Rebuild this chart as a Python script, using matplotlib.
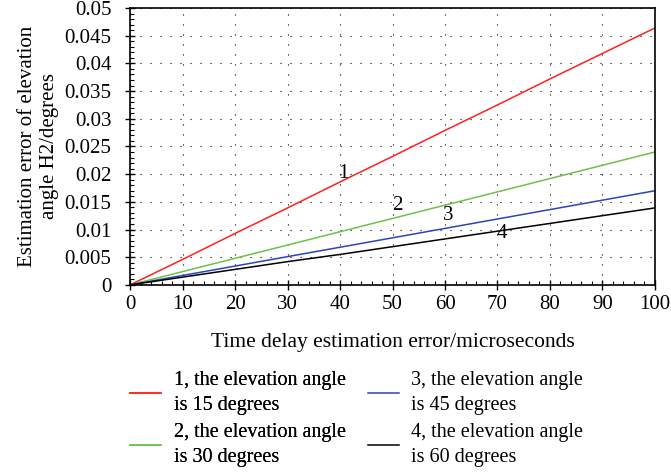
import matplotlib.pyplot as plt
from matplotlib.ticker import MultipleLocator

plt.rcParams['font.family'] = ['Liberation Serif', 'DejaVu Serif']

# time delay error (microseconds)
x = [0, 10, 20, 30, 40, 50, 60, 70, 80, 90, 100]

# estimation error of elevation angle, one list per elevation angle
err_15 = [0, 0.0046, 0.0093, 0.0139, 0.0186, 0.0232, 0.0279, 0.0325, 0.0372, 0.0418, 0.0464]
err_30 = [0, 0.0024, 0.0048, 0.0072, 0.0096, 0.0120, 0.0144, 0.0168, 0.0192, 0.0216, 0.0240]
err_45 = [0, 0.0017, 0.0034, 0.0051, 0.0068, 0.0085, 0.0102, 0.0119, 0.0136, 0.0153, 0.0170]
err_60 = [0, 0.0014, 0.0028, 0.0042, 0.0055, 0.0069, 0.0083, 0.0097, 0.0111, 0.0125, 0.0139]

labels = ['1, the elevation angle\nis 15 degrees',
          '2, the elevation angle\nis 30 degrees',
          '3, the elevation angle\nis 45 degrees',
          '4, the elevation angle\nis 60 degrees']

fig = plt.figure(figsize=(6.71, 4.74), dpi=100)
ax = fig.add_axes([0.194, 0.399, 0.782, 0.584])

l1, = ax.plot(x, err_15, color='#ff2020', lw=1.1)
l2, = ax.plot(x, err_30, color='#6cc24a', lw=1.1)
l3, = ax.plot(x, err_45, color='#2a45b8', lw=1.1)
l4, = ax.plot(x, err_60, color='black', lw=1.1)

# curve numbers
ax.text(40.6, 0.0202, '1', fontsize=15, ha='center', va='center')
ax.text(50.9, 0.0144, '2', fontsize=15, ha='center', va='center')
ax.text(60.6, 0.0126, '3', fontsize=15, ha='center', va='center')
ax.text(70.9, 0.0092, '4', fontsize=15, ha='center', va='center')

ax.set_xlim(0, 100)
ax.set_ylim(0, 0.05)
ax.xaxis.set_major_locator(MultipleLocator(10))
ax.xaxis.set_minor_locator(MultipleLocator(2))
ax.yaxis.set_minor_locator(MultipleLocator(0.001))
ax.set_yticks([0, 0.005, 0.01, 0.015, 0.02, 0.025, 0.03, 0.035, 0.04, 0.045, 0.05])
ax.set_yticklabels(['0', '0.005', '0.01', '0.015', '0.02', '0.025', '0.03',
                    '0.035', '0.04', '0.045', '0.05'])
ax.tick_params(which='major', direction='inout', length=7, width=1, labelsize=15)
ax.tick_params(which='minor', direction='in', length=3, width=0.8)
ax.tick_params(axis='y', which='major', pad=10)
ax.tick_params(top=False, right=False)
ax.grid(True, which='major', color='black', lw=0.8, linestyle=(0, (1, 8)))
for s in ax.spines.values():
    s.set_linewidth(1.2)

ax.set_xlabel('Time delay estimation error/microseconds', fontsize=15.5, labelpad=14)
ax.set_ylabel('Estimation error of elevation\nangle H2/degrees', fontsize=15, labelpad=4)

leg_kw = dict(frameon=False, fontsize=14.5, loc='upper left', borderpad=0,
              borderaxespad=0, handlelength=1.55, handletextpad=0.62,
              labelspacing=0.4)
leg1 = fig.legend([l1, l2], labels[:2], bbox_to_anchor=(0.194, 0.218), **leg_kw)
fig.add_artist(leg1)
leg2 = fig.legend([l3, l4], labels[2:], bbox_to_anchor=(0.548, 0.218), **leg_kw)
for lg in (leg1, leg2):
    for t in lg.get_texts():
        t.set_linespacing(1.45)

fig.savefig('out.png', dpi=100)
